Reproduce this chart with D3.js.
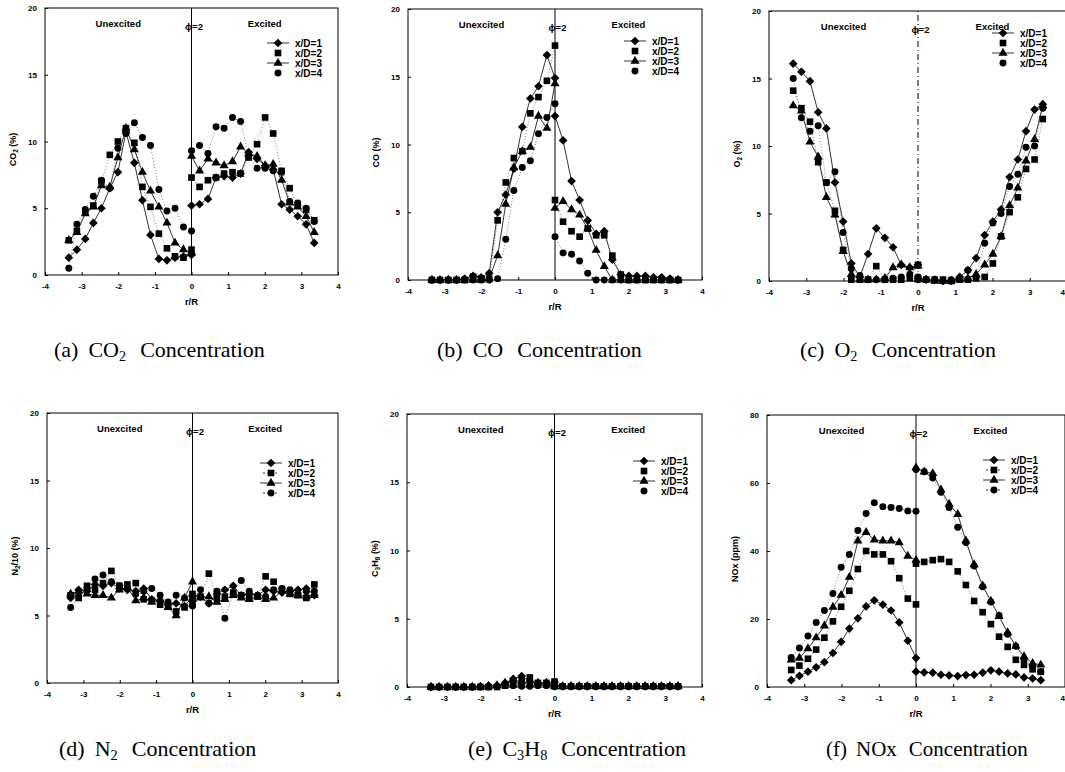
<!DOCTYPE html>
<html>
<head>
<meta charset="utf-8">
<script src="https://cdn.jsdelivr.net/npm/d3@7"></script>
<style>
  body { margin: 0; background: #fff; }
  svg { display: block; }
  .tick text { font-family: "Liberation Sans", Arial, sans-serif; font-weight: bold; font-size: 8px; }
  .lbl { font-family: "Liberation Sans", Arial, sans-serif; font-weight: bold; }
  .cap { font-family: "Liberation Serif", "Times New Roman", serif; }
</style>
</head>
<body>
<div id="chart"></div>
<script>
// radial positions, unexcited side (left) and excited side (right)
const rLeft  = [-3.35, -3.13, -2.9, -2.68, -2.46, -2.23, -2.01, -1.79, -1.56, -1.34, -1.12, -0.89, -0.67, -0.45, -0.22, 0];
const rRight = [0, 0.22, 0.45, 0.67, 0.89, 1.12, 1.34, 1.56, 1.79, 2.01, 2.23, 2.46, 2.68, 2.9, 3.13, 3.35];
const xTicks = [-4, -3, -2, -1, 0, 1, 2, 3, 4];
const seriesNames = ["x/D=1", "x/D=2", "x/D=3", "x/D=4"];

// each series: 16 left values followed by 16 right values
const co2_d1 = [1.3, 1.9, 2.7, 3.9, 5.0, 6.5, 7.7, 10.7, 8.4, 5.6, 3.0, 1.2, 1.1, 1.3, 1.4, 1.5,
                5.2, 5.3, 5.7, 7.3, 7.4, 7.3, 7.6, 9.2, 8.7, 8.2, 7.9, 5.3, 4.9, 4.4, 3.8, 2.4];
const co2_d2 = [2.6, 3.3, 4.7, 5.2, 7.0, 9.0, 10.0, 11.0, 9.9, 6.6, 5.1, 3.1, 2.0, 1.4, 1.3, 1.9,
                7.3, 6.6, 7.1, 7.3, 7.6, 7.7, 7.6, 8.8, 9.8, 11.8, 10.6, 7.8, 6.5, 5.2, 4.9, 4.1];
const co2_d3 = [2.6, 3.2, 4.6, 5.1, 6.7, 6.6, 8.8, 11.0, 9.4, 7.7, 6.3, 5.1, 3.9, 2.4, 1.9, 1.7,
                8.9, 7.8, 8.7, 8.4, 8.2, 8.5, 9.6, 9.1, 8.9, 8.2, 8.3, 7.1, 5.4, 5.1, 4.4, 3.2];
const co2_d4 = [0.5, 3.8, 4.9, 5.9, 7.1, 6.5, 9.5, 10.6, 11.4, 10.3, 9.7, 6.4, 4.8, 5.0, 3.6, 3.3,
                9.3, 9.7, 9.1, 11.1, 11.0, 11.8, 11.5, 8.9, 8.0, 8.0, 7.8, 7.7, 5.5, 5.4, 5.0, 4.0];

const co_d1 = [0, 0, 0, 0, 0.1, 0.3, 0.2, 0.5, 5.0, 6.3, 8.2, 11.3, 13.4, 14.3, 16.6, 14.9,
               12.1, 10.3, 7.3, 5.9, 4.4, 3.4, 3.6, 1.5, 0.4, 0.3, 0.3, 0.3, 0.2, 0.2, 0.1, 0];
const co_d2 = [0, 0, 0, 0, 0, 0.25, 0.1, 0.1, 4.4, 7.2, 9.0, 9.5, 12.3, 13.5, 14.7, 17.3,
               5.9, 4.3, 3.6, 3.2, 3.8, 3.3, 3.3, 1.8, 0.4, 0, 0, 0, 0, 0, 0, 0];
const co_d3 = [0, 0, 0, 0, 0, 0, 0, 0.1, 1.8, 5.6, 8.3, 9.5, 9.8, 12.1, 11.2, 14.5,
               5.3, 5.8, 5.2, 4.8, 3.8, 2.2, 1.0, 0, 0, 0, 0, 0, 0, 0, 0, 0];
const co_d4 = [0, 0, 0, 0, 0, 0, 0, 0, 0.1, 3.0, 6.6, 8.3, 8.8, 10.8, 12.0, 13.0,
               3.2, 2.0, 1.9, 1.4, 0.5, 0, 0, 0, 0, 0, 0, 0, 0, 0, 0, 0];

const o2_d1 = [16.1, 15.5, 14.8, 12.5, 11.3, 7.3, 4.4, 1.3, 0.3, 2.0, 3.9, 3.2, 2.5, 1.2, 1.0, 1.2,
               0.2, 0.1, 0.1, 0, 0, 0.3, 0.8, 1.7, 3.4, 4.4, 5.3, 7.7, 9.0, 11.1, 12.7, 13.1];
const o2_d2 = [14.1, 12.8, 11.8, 8.8, 7.3, 5.2, 2.3, 0.1, 0.1, 0.1, 1.1, 0.1, 0.1, 0.1, 0.2, 1.2,
               0.2, 0.1, 0.1, 0.1, 0, 0.1, 0.1, 0.2, 0.3, 1.3, 3.3, 5.1, 6.2, 8.3, 9.0, 12.0];
const o2_d3 = [13.0, 12.6, 10.3, 9.2, 6.2, 4.9, 2.2, 0.5, 0.1, 0.1, 0.1, 0.2, 1.0, 1.2, 1.0, 1.1,
               0.1, 0.1, 0, 0, 0, 0.1, 0.2, 0.5, 1.2, 2.0, 3.3, 5.6, 6.9, 8.9, 10.5, 13.0];
const o2_d4 = [15.0, 12.1, 11.1, 11.5, 7.3, 8.1, 3.6, 0.9, 0.4, 0.1, 0.1, 0.1, 0.2, 0.3, 0.5, 0.3,
               0.1, 0.1, 0.1, 0, 0.1, 0.2, 0.8, 0.3, 2.8, 4.3, 5.0, 7.0, 7.9, 9.9, 10.0, 12.8];

const n2_d1 = [6.3, 6.9, 6.8, 7.3, 7.2, 7.4, 7.0, 6.9, 6.8, 7.0, 6.2, 6.1, 5.8, 5.9, 5.7, 6.4,
               6.5, 6.4, 5.9, 6.6, 6.9, 7.2, 6.5, 6.6, 6.5, 6.9, 6.8, 6.7, 6.8, 6.9, 7.0, 6.5];
const n2_d2 = [6.5, 6.3, 7.2, 6.9, 7.4, 8.3, 7.2, 7.3, 7.4, 6.2, 6.1, 5.8, 5.7, 5.3, 5.6, 6.2,
               6.6, 6.4, 8.1, 6.3, 6.4, 6.7, 6.5, 6.3, 6.4, 7.9, 7.5, 6.9, 6.6, 6.5, 6.3, 7.3];
const n2_d3 = [6.6, 6.8, 6.6, 6.5, 6.5, 6.3, 6.9, 7.1, 6.1, 6.3, 6.0, 6.2, 5.6, 5.0, 6.3, 7.5,
               6.2, 6.3, 6.4, 6.0, 6.2, 6.5, 6.3, 6.2, 6.4, 6.2, 6.3, 6.8, 6.6, 6.5, 6.4, 6.5];
const n2_d4 = [5.6, 6.4, 7.0, 7.7, 8.0, 7.5, 7.2, 7.0, 6.6, 6.8, 7.0, 6.5, 6.0, 6.5, 6.3, 5.7,
               5.8, 6.9, 5.9, 6.8, 4.8, 6.6, 7.6, 6.8, 6.5, 6.4, 6.9, 7.0, 6.9, 6.6, 6.8, 6.8];

const c3h8_d1 = [0, 0, 0, 0, 0, 0, 0.05, 0.1, 0.1, 0.3, 0.6, 0.8, 0.4, 0.3, 0.3, 0.35,
                 0.05, 0.05, 0.05, 0.05, 0.05, 0.05, 0.05, 0.05, 0.05, 0.05, 0.05, 0.05, 0.05, 0.05, 0.05, 0.05];
const c3h8_d2 = [0, 0, 0, 0, 0, 0, 0, 0, 0, 0.1, 0.2, 0.5, 0.7, 0.3, 0.3, 0.4,
                 0.05, 0.05, 0.05, 0.05, 0.05, 0.05, 0.05, 0.05, 0.05, 0.05, 0.05, 0.05, 0.05, 0.05, 0.05, 0.05];
const c3h8_d3 = [0, 0, 0, 0, 0, 0, 0, 0.05, 0.1, 0.3, 0.5, 0.4, 0.2, 0.3, 0.3, 0.3,
                 0.05, 0.05, 0.05, 0.05, 0.05, 0.05, 0.05, 0.05, 0.05, 0.05, 0.05, 0.05, 0.05, 0.05, 0.05, 0.05];
const c3h8_d4 = [0, 0, 0, 0, 0, 0, 0, 0, 0.05, 0.1, 0.1, 0.05, 0.05, 0.1, 0.1, 0.2,
                 0.05, 0.05, 0.05, 0.05, 0.05, 0.05, 0.05, 0.05, 0.05, 0.05, 0.05, 0.05, 0.05, 0.05, 0.05, 0.05];

const nox_d1 = [2.0, 3.3, 4.5, 5.8, 7.3, 10.0, 13.3, 17.2, 20.2, 23.7, 25.5, 24.2, 22.5, 19.0, 13.6, 8.5,
                4.5, 4.3, 4.2, 3.6, 3.4, 3.2, 3.5, 3.6, 4.2, 4.9, 4.5, 4.0, 3.7, 2.8, 2.5, 2.0];
const nox_d2 = [5.0, 6.3, 8.3, 11.0, 14.5, 19.3, 23.6, 28.3, 34.7, 40.0, 39.0, 39.0, 37.0, 32.0, 26.0, 24.3,
                36.3, 36.8, 37.3, 37.6, 36.8, 34.0, 30.0, 25.3, 22.0, 18.5, 14.8, 11.8, 8.0, 6.5, 5.2, 4.5];
const nox_d3 = [8.0, 8.5, 11.3, 14.5, 18.0, 23.5, 27.0, 32.3, 43.0, 45.5, 43.3, 43.0, 43.0, 42.5, 38.5, 37.3,
                64.5, 63.3, 62.8, 58.0, 53.8, 50.8, 43.0, 36.0, 29.8, 25.3, 20.8, 16.0, 12.0, 9.0, 7.0, 6.5];
const nox_d4 = [8.7, 11.5, 15.0, 19.0, 22.5, 27.5, 35.2, 39.0, 46.0, 51.0, 54.2, 53.0, 52.8, 52.5, 51.8, 51.7,
                64.0, 63.3, 61.5, 57.3, 52.8, 47.0, 42.5, 35.6, 29.5, 25.0, 21.0, 15.5, 12.0, 8.0, 6.0, 4.5];

// panel layout (pixel frame) and labels
const W = 1065, H = 772;
const panels = [
  {series: [co2_d1, co2_d2, co2_d3, co2_d4], ymax: 20, ystep: 5, L: 45, R: 338, T: 8, B: 275,
   ylab: [["CO"], ["2", 1], [" (%)"]], legX: 71, legY: 35,
   cap: {x: 54, y: 357, size: 22, parts: [["(a)"], ["CO", 10], ["2", 0, 1], ["Concentration", 14]]}},
  {series: [co_d1, co_d2, co_d3, co_d4], ymax: 20, ystep: 5, L: 408, R: 702, T: 9, B: 280,
   ylab: [["CO (%)"]], legX: 78, legY: 32,
   cap: {x: 437, y: 357, size: 22, parts: [["(b)"], ["CO", 10], ["Concentration", 14]]}},
  {series: [o2_d1, o2_d2, o2_d3, o2_d4], ymax: 20, ystep: 5, L: 769, R: 1067, T: 11, B: 281,
   ylab: [["O"], ["2", 1], [" (%)"]], legX: 75, legY: 22, dash: "6,3,1,3",
   cap: {x: 800, y: 357, size: 22, parts: [["(c)"], ["O", 10], ["2", 0, 1], ["Concentration", 14]]}},
  {series: [n2_d1, n2_d2, n2_d3, n2_d4], ymax: 20, ystep: 5, L: 47, R: 338, T: 413, B: 683,
   ylab: [["N"], ["2", 1], ["/10 (%)"]], legX: 78, legY: 50, legDash: true,
   cap: {x: 59, y: 756, size: 22, parts: [["(d)"], ["N", 10], ["2", 0, 1], ["Concentration", 14]]}},
  {series: [c3h8_d1, c3h8_d2, c3h8_d3, c3h8_d4], ymax: 20, ystep: 5, L: 407, R: 702, T: 414, B: 687,
   ylab: [["C"], ["3", 1], ["H"], ["8", 1], [" (%)"]], legX: 69, legY: 47,
   cap: {x: 468, y: 756, size: 22, parts: [["(e)"], ["C", 10], ["3", 0, 1], ["H", 0], ["8", 0, 1], ["Concentration", 14]]}},
  {series: [nox_d1, nox_d2, nox_d3, nox_d4], ymax: 80, ystep: 20, L: 767, R: 1065, T: 415, B: 687,
   ylab: [["NOx (ppm)"]], legX: 82, legY: 45, legDash: true,
   cap: {x: 826, y: 756, size: 21, parts: [["(f)"], ["NOx", 9], ["Concentration", 12]]}}
];

const diamond = {
  draw(ctx, size) {
    const r = Math.sqrt(size / 2);
    ctx.moveTo(0, -r); ctx.lineTo(r, 0); ctx.lineTo(0, r); ctx.lineTo(-r, 0); ctx.closePath();
  }
};
const shapes = [[diamond, 38], [d3.symbolSquare, 44], [d3.symbolTriangle, 36], [d3.symbolCircle, 38]];
const dashes = [null, "1,2", null, "1,2"];

const svg = d3.select("#chart").append("svg")
  .attr("width", W).attr("height", H);
svg.append("rect").attr("width", W).attr("height", H).attr("fill", "#fff");

panels.forEach(p => {
  const g = svg.append("g");
  const x = d3.scaleLinear().domain([-4, 4]).range([p.L, p.R]);
  const y = d3.scaleLinear().domain([0, p.ymax]).range([p.B, p.T]);

  const xa = g.append("g").attr("transform", `translate(0,${p.B})`)
    .call(d3.axisBottom(x).tickValues(xTicks).tickSize(-3).tickPadding(8)
      .tickFormat(d => d < 0 ? "-" + (-d) : d))
    .call(a => a.select(".domain").remove());
  // keep edge label inside the picture
  xa.selectAll(".tick").filter(d => x(d) + 3 > W)
    .select("text").attr("text-anchor", "end").attr("x", W - x(4) - 0.5);

  g.append("g").attr("transform", `translate(${p.L},0)`)
    .call(d3.axisLeft(y).tickValues(d3.range(0, p.ymax + 1, p.ystep)).tickSize(-3).tickPadding(8))
    .call(a => a.select(".domain").remove());

  g.selectAll(".tick line").attr("stroke", "#000");
  g.selectAll(".tick text").attr("fill", "#000");

  g.append("rect")
    .attr("x", p.L).attr("y", p.T)
    .attr("width", p.R - p.L).attr("height", p.B - p.T)
    .attr("fill", "none").attr("stroke", "#000").attr("stroke-width", 1);

  // centre line
  g.append("line")
    .attr("x1", x(0)).attr("x2", x(0)).attr("y1", p.B).attr("y2", p.T)
    .attr("stroke", "#000").attr("stroke-width", 1)
    .attr("stroke-dasharray", p.dash || null);

  // axis titles
  g.append("text").attr("class", "lbl")
    .attr("x", (p.L + p.R) / 2).attr("y", p.B + 30)
    .attr("text-anchor", "middle").attr("font-size", 9.5)
    .text("r/R");

  const yt = g.append("text").attr("class", "lbl")
    .attr("font-size", 9).attr("text-anchor", "middle")
    .attr("transform", `translate(${p.L - 29},${(p.T + p.B) / 2 + 8}) rotate(-90)`);
  let low = false;
  p.ylab.forEach(([t, sub]) => {
    const ts = yt.append("tspan").text(t);
    if (sub) { ts.attr("font-size", 6.5).attr("dy", low ? 0 : 2); low = true; }
    else if (low) { ts.attr("dy", -2); low = false; }
  });

  // annotations
  g.append("text").attr("class", "lbl").attr("font-size", 9.5)
    .attr("x", x(-2)).attr("y", p.T + 19).attr("text-anchor", "middle").text("Unexcited");
  g.append("text").attr("class", "lbl").attr("font-size", 9.5)
    .attr("x", x(2)).attr("y", p.T + 19).attr("text-anchor", "middle").text("Excited");
  g.append("text").attr("class", "lbl").attr("font-size", 9.5)
    .attr("x", x(0) - 6.5).attr("y", p.T + 22).text("ϕ=2");

  // series
  p.series.forEach((vals, si) => {
    const left = rLeft.map((r, i) => [r, vals[i]]);
    const right = rRight.map((r, i) => [r, vals[i + 16]]);
    const line = d3.line().x(d => x(d[0])).y(d => y(d[1]));
    [left, right].forEach(side => {
      g.append("path").datum(side)
        .attr("d", line)
        .attr("fill", "none")
        .attr("stroke", dashes[si] ? "#444" : "#000")
        .attr("stroke-width", dashes[si] ? 0.7 : 0.8)
        .attr("stroke-dasharray", dashes[si]);
    });
    const sym = d3.symbol().type(shapes[si][0]).size(shapes[si][1]);
    g.append("g").selectAll("path")
      .data(left.concat(right))
      .join("path")
      .attr("transform", d => `translate(${x(d[0])},${y(d[1])})`)
      .attr("d", sym)
      .attr("fill", "#000");

    // legend entry
    const lx = p.R - p.legX, ly = p.T + p.legY + si * 10;
    if (!dashes[si]) {
      g.append("line")
        .attr("x1", lx).attr("x2", lx + 22).attr("y1", ly).attr("y2", ly)
        .attr("stroke", "#000").attr("stroke-width", 0.8);
    } else if (p.legDash) {
      g.append("line")
        .attr("x1", lx + 3).attr("x2", lx + 19).attr("y1", ly).attr("y2", ly)
        .attr("stroke", "#000").attr("stroke-width", 0.8)
        .attr("stroke-dasharray", "2,2");
    }
    g.append("path")
      .attr("transform", `translate(${lx + 11},${ly})`)
      .attr("d", sym).attr("fill", "#000");
    g.append("text").attr("class", "lbl").attr("font-size", 10)
      .attr("x", lx + 28).attr("y", ly).attr("dy", "0.36em")
      .text(seriesNames[si]);
  });

  // caption: words flow with explicit gaps, subscripts lowered
  const ct = svg.append("text").attr("class", "cap")
    .attr("x", p.cap.x).attr("y", p.cap.y).attr("font-size", p.cap.size);
  let lowered = false;
  p.cap.parts.forEach(([t, gap, sub]) => {
    const ts = ct.append("tspan").text(t);
    if (gap) ts.attr("dx", gap);
    if (sub) { ts.attr("font-size", p.cap.size * 0.65).attr("dy", lowered ? 0 : 4); lowered = true; }
    else if (lowered) { ts.attr("dy", -4); lowered = false; }
  });
});
</script>
</body>
</html>
